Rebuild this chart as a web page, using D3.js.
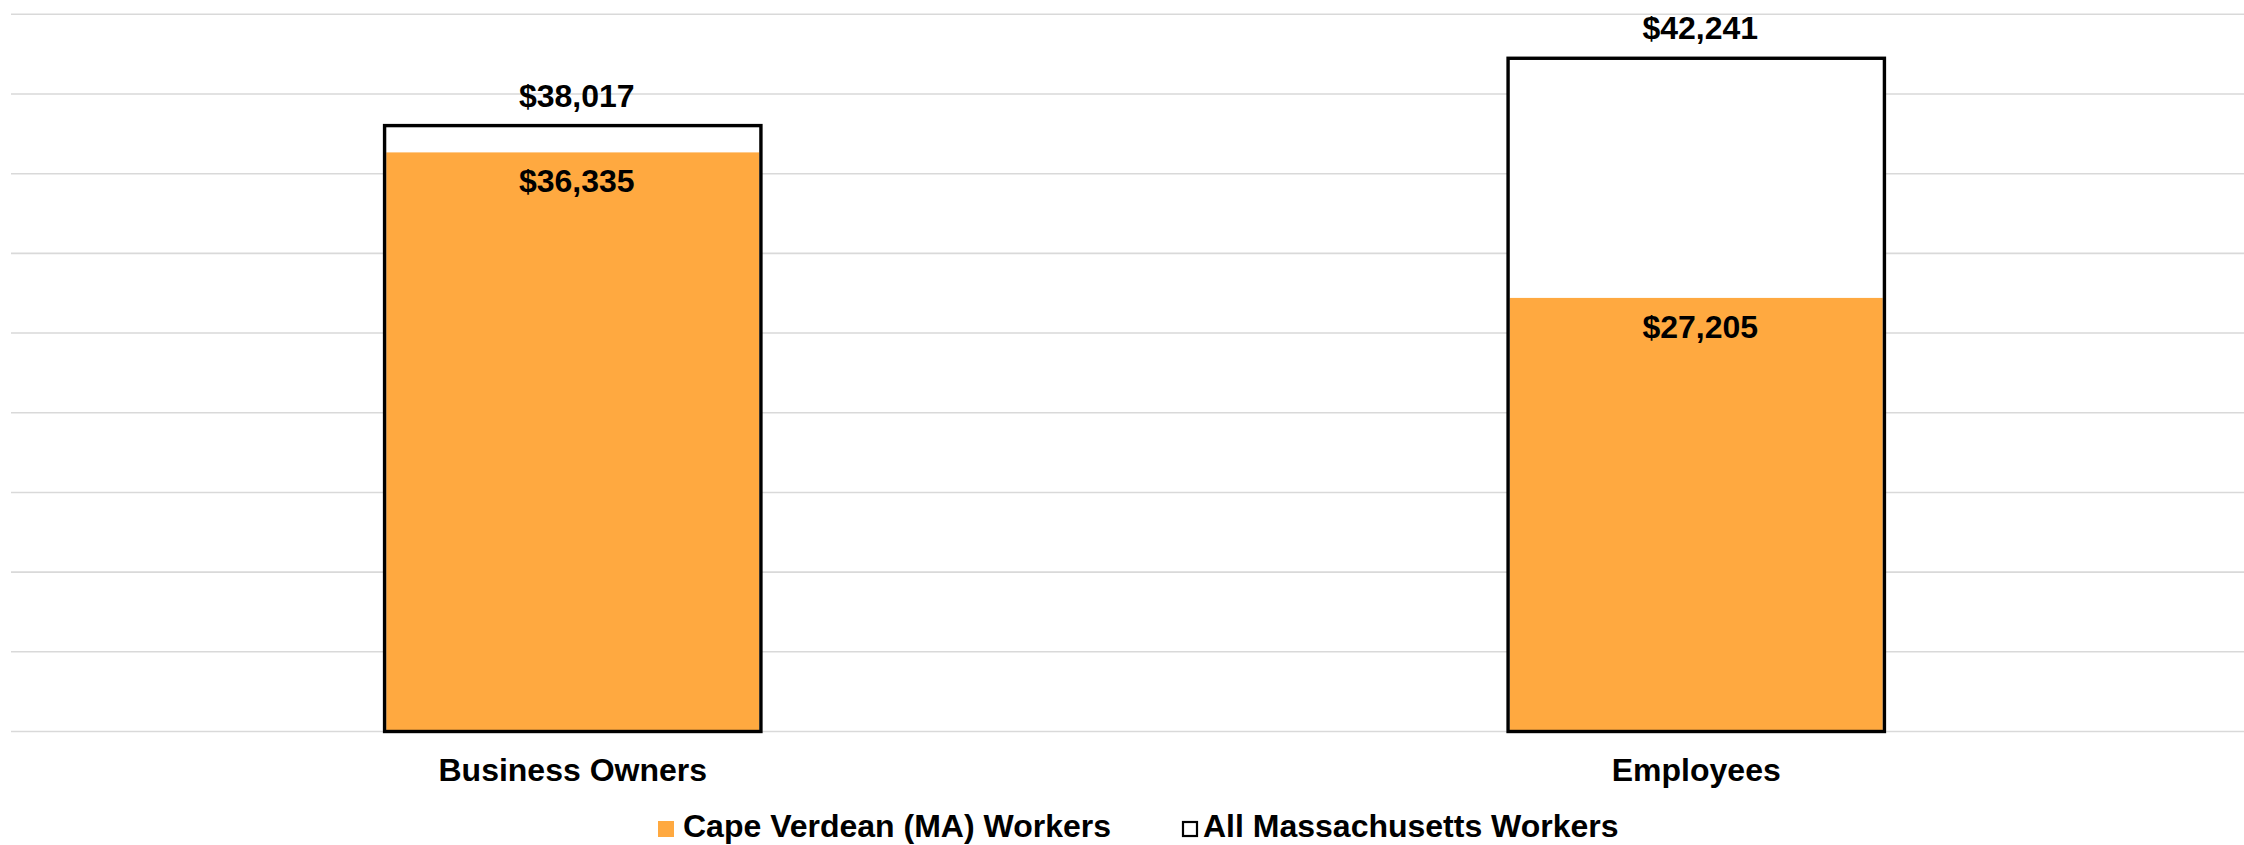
<!DOCTYPE html>
<html>
<head>
<meta charset="utf-8">
<script src="https://cdn.jsdelivr.net/npm/d3@7"></script>
<style>
  html, body { margin: 0; padding: 0; background: #fff; }
  svg { display: block; font-family: "Liberation Sans", Arial, sans-serif; }
</style>
</head>
<body>
<svg id="chart" width="2244" height="845"></svg>
<script>
const categories = ["Business Owners", "Employees"];
const capeVerdeanValues = [36335, 27205];
const allMassachusettsValues = [38017, 42241];
const seriesNames = ["Cape Verdean (MA) Workers", "All Massachusetts Workers"];
const yTicks = [0, 5000, 10000, 15000, 20000, 25000, 30000, 35000, 40000, 45000];

const svg = d3.select("#chart");
const W = 2244;
const orange = "#FFA940";
const fmt = v => "$" + d3.format(",")(v);

const x = d3.scaleBand().domain(categories).range([11, 2258]).paddingInner(0.662).paddingOuter(0.331);
const y = d3.scaleLinear().domain([0, 45000]).range([731.5, 14.3]);

// gridlines
svg.append("g").selectAll("line").data(yTicks).join("line")
  .attr("x1", 11).attr("x2", W)
  .attr("y1", d => y(d)).attr("y2", d => y(d))
  .attr("stroke", "#d9d9d9").attr("stroke-width", 1.6);

const sw = 3.4;
const rows = categories.map((c, i) => ({ c, cv: capeVerdeanValues[i], ma: allMassachusettsValues[i] }));

// white background bars (All MA)
svg.append("g").selectAll("rect").data(rows).join("rect")
  .attr("x", d => x(d.c) + sw / 2).attr("width", x.bandwidth() - sw)
  .attr("y", d => y(d.ma)).attr("height", d => y(0) - y(d.ma))
  .attr("fill", "#fff");

// orange bars (Cape Verdean)
svg.append("g").selectAll("rect").data(rows).join("rect")
  .attr("x", d => x(d.c) + sw).attr("width", x.bandwidth() - 2 * sw)
  .attr("y", d => y(d.cv)).attr("height", d => y(0) - y(d.cv))
  .attr("fill", orange);

// outline of All MA bars
svg.append("g").selectAll("rect").data(rows).join("rect")
  .attr("x", d => x(d.c) + sw / 2).attr("width", x.bandwidth() - sw)
  .attr("y", d => y(d.ma)).attr("height", d => y(0) - y(d.ma))
  .attr("fill", "none").attr("stroke", "#000").attr("stroke-width", sw);

// labels
const lab = svg.append("g").attr("font-weight", "bold").attr("font-size", 32).attr("fill", "#000").attr("text-anchor", "middle");
lab.selectAll("text.ma").data(rows).join("text").attr("class", "ma")
  .attr("x", d => x(d.c) + x.bandwidth() / 2 + 4)
  .attr("y", d => y(d.ma) - 19)
  .text(d => fmt(d.ma));
lab.selectAll("text.cv").data(rows).join("text").attr("class", "cv")
  .attr("x", d => x(d.c) + x.bandwidth() / 2 + 4)
  .attr("y", d => y(d.cv) + 40)
  .text(d => fmt(d.cv));

// category axis labels
lab.selectAll("text.cat").data(categories).join("text").attr("class", "cat")
  .attr("x", d => x(d) + x.bandwidth() / 2)
  .attr("y", 781)
  .text(d => d);

// legend
const leg = svg.append("g").attr("font-weight", "bold").attr("font-size", 32);
leg.append("rect").attr("x", 658).attr("y", 821).attr("width", 16).attr("height", 16).attr("fill", orange);
leg.append("text").attr("x", 683).attr("y", 837).text(seriesNames[0]);
leg.append("rect").attr("x", 1183).attr("y", 822).attr("width", 14).attr("height", 14)
  .attr("fill", "#fff").attr("stroke", "#000").attr("stroke-width", 2.2);
leg.append("text").attr("x", 1203).attr("y", 837).text(seriesNames[1]);
</script>
</body>
</html>
